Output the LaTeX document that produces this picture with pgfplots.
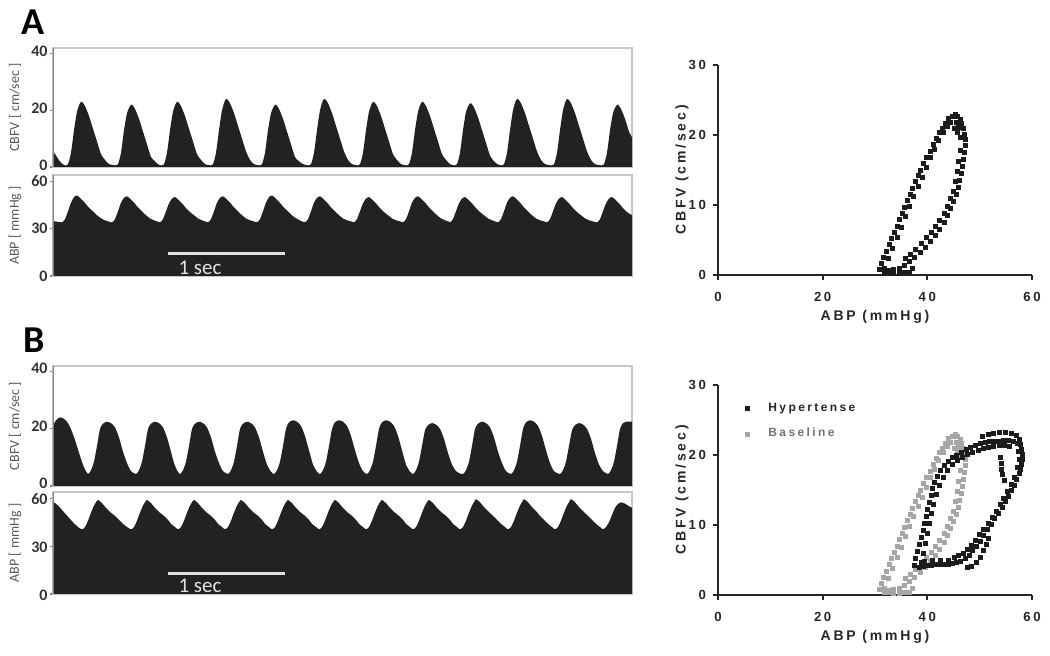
\documentclass[border=0pt]{standalone}
\usepackage{fontspec}
\setmainfont{Carlito}
\newfontfamily\prism[LetterSpace=20]{Liberation Sans}
\usepackage{pgfplots}
\pgfplotsset{compat=1.18}
\usepackage{pgfplotstable}
\definecolor{wave}{HTML}{222222}
\definecolor{frame}{HTML}{C8C8C8}
\definecolor{hyper}{HTML}{1C1C1C}
\definecolor{basegray}{HTML}{A6A6A6}
\definecolor{barcol}{HTML}{E2E2E2}

% loop data: CBFV (cm/sec) against ABP (mmHg)
\pgfplotstableread[row sep=\\]{
abp cbfv\\
30.8 0.8\\ 31.2 1.6\\ 31.7 2.5\\ 32.2 3.4\\ 32.7 4.3\\ 33.2 5.2\\ 33.7 6.1\\ 34.2 7.0\\ 34.7 7.9\\ 35.2 8.8\\
35.7 9.7\\ 36.2 10.6\\ 36.7 11.5\\ 37.2 12.4\\ 37.7 13.3\\ 38.2 14.2\\ 38.7 15.0\\ 39.3 15.9\\ 39.9 16.8\\ 40.5 17.7\\
41.1 18.6\\ 41.7 19.5\\ 42.3 20.3\\ 42.9 21.0\\ 43.5 21.7\\ 44.1 22.3\\ 44.7 22.7\\ 45.3 22.9\\
31.8 0.9\\ 32.6 2.3\\ 33.4 3.8\\ 34.2 5.3\\ 35.0 6.8\\ 35.8 8.3\\ 36.6 9.8\\ 37.4 11.2\\ 38.2 12.6\\ 39.0 14.0\\
39.8 15.4\\ 40.6 16.8\\ 41.4 18.0\\ 42.2 19.2\\ 43.0 20.3\\ 43.8 21.2\\ 44.5 21.8\\
45.8 22.6\\ 46.3 22.2\\ 46.6 21.6\\ 46.9 20.9\\ 47.1 20.1\\ 47.2 19.3\\ 45.5 21.8\\ 46.0 21.1\\ 45.8 20.3\\ 46.3 19.7\\ 45.2 21.0\\
47.2 18.5\\ 47.1 17.5\\ 46.9 16.5\\ 46.7 15.5\\ 46.5 14.5\\ 46.2 13.5\\ 45.9 12.5\\ 45.5 11.5\\ 45.0 10.5\\ 44.5 9.5\\
43.9 8.5\\ 43.2 7.5\\ 42.4 6.5\\ 41.5 5.6\\ 40.6 4.8\\ 39.6 4.0\\ 38.6 3.2\\ 37.6 2.5\\ 36.6 1.9\\ 35.6 1.4\\
46.3 17.8\\ 46.0 16.2\\ 45.7 14.8\\ 45.4 13.4\\ 45.0 12.0\\ 44.5 10.9\\ 43.9 9.8\\ 43.2 8.8\\ 42.4 7.8\\ 41.6 6.9\\
40.7 6.1\\ 39.8 5.3\\ 38.8 4.5\\ 37.8 3.7\\ 36.8 3.0\\ 35.8 2.3\\
34.6 1.0\\ 33.6 0.8\\ 32.6 0.7\\ 36.6 0.4\\ 35.6 0.3\\ 34.6 0.2\\ 33.6 0.2\\ 32.6 0.3\\ 31.8 0.4\\ 37.2 0.9\\
}\loopbase

\pgfplotstableread[row sep=\\]{
abp cbfv\\
37.6 4.2\\ 37.8 5.2\\ 38.1 6.2\\ 38.5 7.2\\ 38.9 8.2\\ 39.2 9.2\\ 39.5 10.2\\ 39.8 11.2\\ 40.1 12.2\\ 40.4 13.2\\
40.7 14.2\\ 41.0 15.2\\ 41.4 16.1\\ 41.9 17.0\\ 42.5 17.8\\ 43.2 18.5\\ 44.0 19.1\\ 44.8 19.6\\ 45.6 20.0\\ 46.5 20.4\\
47.4 20.8\\ 48.3 21.1\\ 49.2 21.4\\ 50.1 21.6\\ 51.0 21.8\\ 51.9 21.9\\ 52.8 22.0\\ 53.7 22.0\\ 54.6 22.1\\ 55.5 22.1\\ 56.4 22.0\\
38.8 4.6\\ 39.2 6.0\\ 39.6 7.4\\ 40.0 8.8\\ 40.4 10.2\\ 40.8 11.6\\ 41.2 13.0\\ 41.7 14.4\\ 42.3 15.7\\ 43.0 16.8\\
43.8 17.8\\ 44.7 18.6\\ 45.7 19.2\\ 46.7 19.7\\ 47.7 20.1\\ 48.7 20.4\\ 49.7 20.7\\ 50.7 20.9\\ 51.7 21.1\\ 52.7 21.2\\
53.7 21.3\\ 54.7 21.3\\ 55.7 21.2\\
50.5 22.6\\ 51.6 22.9\\ 52.7 23.1\\ 53.8 23.2\\ 54.9 23.2\\ 56.0 23.1\\ 57.0 22.8\\
57.5 22.2\\ 57.8 21.5\\ 58.0 20.8\\ 58.1 20.1\\ 58.1 19.4\\ 58.0 18.7\\ 57.8 18.0\\ 57.2 21.6\\ 57.4 20.5\\ 57.5 19.3\\ 57.3 18.2\\
57.5 17.3\\ 57.1 16.5\\ 56.6 15.7\\ 56.1 14.9\\ 55.5 14.1\\ 54.9 13.3\\ 54.3 12.5\\ 53.6 11.7\\ 52.9 10.9\\ 52.2 10.1\\
51.5 9.3\\ 50.8 8.5\\ 50.1 7.7\\ 49.4 7.0\\ 48.7 6.3\\ 48.0 5.7\\ 47.2 5.2\\ 46.4 4.8\\ 45.6 4.6\\
56.6 16.8\\ 56.0 15.8\\ 55.3 14.8\\ 54.6 13.8\\ 53.9 12.9\\ 53.2 12.0\\ 52.4 11.1\\ 51.6 10.2\\ 50.8 9.4\\ 50.0 8.6\\
49.2 7.8\\ 48.4 7.1\\ 47.6 6.5\\ 46.8 6.0\\ 46.0 5.6\\ 45.2 5.3\\
44.8 4.5\\ 44.0 4.4\\ 43.2 4.3\\ 42.4 4.3\\ 41.6 4.3\\ 40.8 4.2\\ 40.0 4.2\\ 39.2 4.1\\ 38.4 4.0\\
39.5 4.8\\ 41.0 4.9\\ 42.5 4.9\\ 44.0 5.0\\
47.6 4.0\\ 48.5 4.1\\ 49.4 4.6\\ 50.2 5.4\\ 50.8 6.3\\ 51.3 7.2\\ 51.6 8.1\\
54.0 19.6\\ 54.1 18.8\\ 54.2 18.0\\ 54.4 17.2\\ 54.7 16.4\\
}\loophyper

\pgfplotsset{
  trace/.style={
    scale only axis, width=289.5pt, xmin=0, xmax=579, ymin=0,
    xtick=\empty, ytick pos=left, tick align=outside, major tick length=1.5pt,
    tick style={black!50, line width=0.6pt},
    axis line style={frame, line width=0.9pt},
    yticklabel style={font=\bfseries\fontsize{8}{8}\selectfont, text=black!80, inner sep=0pt, xshift=-1pt},
    /pgf/number format/assume math mode=true,
    ylabel style={at={(axis description cs:-0.0656,0.5)}, anchor=center,
      font=\fontsize{7}{7}\selectfont, text=black!65},
  },
  wavefill/.style={draw=none, fill=wave, smooth, tension=0.4},
  loop/.style={
    scale only axis, width=157pt, height=105pt,
    xmin=0, xmax=60, ymin=0, ymax=30,
    axis x line=bottom, axis y line=left,
    axis line style={-, line width=1.2pt, black!85},
    xtick={0,20,40,60}, ytick={0,10,20,30},
    tick align=outside, major tick length=2.5pt, tick style={line width=1pt, black!85},
    ticklabel style={font=\prism\bfseries\fontsize{6.6}{7}\selectfont, text=black!85},
    xticklabel style={yshift=-2.5pt},
    /pgf/number format/assume math mode=true,
    xlabel={ABP (mmHg)}, ylabel={CBFV (cm/sec)},
    label style={font=\prism\bfseries\fontsize{7}{8}\selectfont, text=black!85},
    xlabel style={at={(axis description cs:0.5,-0.2)}, anchor=center},
    ylabel style={at={(axis description cs:-0.115,0.5)}, anchor=center},
    clip=false,
  },
  dots/.style={only marks, mark=square*, mark size=1pt},
}

\begin{document}
\begin{tikzpicture}
\useasboundingbox (0,0) rectangle (525pt,328pt);

\node[font=\bfseries\fontsize{19}{19}\selectfont] at (16.5pt,317pt) {A};
\node[font=\bfseries\fontsize{19}{19}\selectfont] at (17pt,158pt) {B};

% ---------- A: CBFV trace
\begin{axis}[trace, at={(26.5pt,244.5pt)}, anchor=south west, height=59.5pt,
  ymax=42, ytick={0,20,40}, ylabel={CBFV [ cm/sec ]}, yticklabel style={yshift=1pt}]
\addplot[wavefill] coordinates {
(0,5.6)(4,3.5)(8,1.5)
(12,0.6)(15,1.0)(18,5)(21,13)(24,19.5)(27,22.5)(29,23)(32,21.5)(36,18)(40,13.5)(44,9)(48,4.5)(52,2.5)(56,1.0)
(62,0.6)(65,1.0)(68,5)(71,13)(74,19)(77,21.5)(79,22)(82,20.5)(86,17)(90,12.5)(94,8)(98,3.5)(102,2)(105,1.0)
(108,0.6)(111,1)(114,5)(117,13)(120,19.5)(123,22.5)(125,23)(128,21.5)(132,18)(136,13.5)(140,9)(144,4.5)(148,2.5)(152,1)
(157,0.6)(160,1)(163,5)(166,13)(169,20)(172,23.5)(174,24)(177,22.5)(181,19)(185,14.5)(189,10)(193,5.5)(197,2.5)(201,1)
(206,0.6)(209,1)(212,5)(215,13)(218,19)(221,21.5)(223,22)(226,20.5)(230,17)(234,12.5)(238,8)(242,3.5)(246,2)(250,1)
(255,0.6)(258,1)(261,5)(264,13)(267,20)(270,23.5)(272,24)(275,22.5)(279,19)(283,14.5)(287,10)(291,5.5)(295,2.5)(299,1)
(304,0.6)(307,1)(310,5)(313,13)(316,19.5)(319,22.5)(321,23)(324,21.5)(328,18)(332,13.5)(336,9)(340,4.5)(344,2.5)(348,1)
(353,0.6)(356,1)(359,5)(362,13)(365,19.5)(368,22.5)(370,23)(373,21.5)(377,18)(381,13.5)(385,9)(389,4.5)(393,2.5)(397,1)
(401,0.6)(404,1)(407,5)(410,13)(413,19.5)(416,22)(418,22.5)(421,21)(425,17.5)(429,13)(433,8.5)(437,4)(441,2)(445,0.9)
(448,0.6)(451,1)(454,5)(457,13)(460,20)(463,23.5)(465,24)(468,22.5)(472,19)(476,14.5)(480,10)(484,5.5)(488,2.5)(492,1)
(498,0.6)(501,1)(504,5)(507,13)(510,20)(513,23.5)(515,24)(518,22.5)(522,19)(526,14.5)(530,10)(534,5.5)(538,2.5)(542,1)
(548,0.6)(551,1)(554,5)(557,13)(560,19)(563,21.5)(565,22)(568,20.5)(572,17)(576,12.5)(579,10.5)
} \closedcycle;
\draw[black!50, line width=0.9pt] (rel axis cs:0,0) -- (rel axis cs:0,1);
\end{axis}

% ---------- A: ABP trace
\begin{axis}[trace, at={(26.5pt,190pt)}, anchor=south west, height=50.5pt,
  ymax=64, ytick={0,30,60}, ylabel={ABP [ mmHg ]}]
\addplot[wavefill] coordinates {
(0,34.7)(4,34.4)
(9,34)(12,36)(15,41)(18,46.5)(21,50)(24,51)(27,49.5)(31,47)(35,44)(39,41.5)(43,39)(47,37)(51,35.5)(55,34.6)
(59,34)(62,36)(65,41)(68,46.5)(71,49.5)(74,50.5)(77,49)(81,46.5)(85,43.5)(89,41)(93,38.5)(97,36.5)(101,35.3)(104,34.6)
(107,34)(110,36)(113,41)(116,46)(119,49)(122,50)(125,48.5)(129,46)(133,43)(137,40.5)(141,38.5)(145,36.5)(149,35.3)(152,34.6)
(155,34)(158,36)(161,41)(164,46.5)(167,49.5)(170,50.5)(173,49)(177,46.5)(181,43.5)(185,41)(189,38.5)(193,36.5)(197,35.3)(201,34.6)
(204,34)(207,36)(210,41)(213,46.5)(216,50)(219,51)(222,49.5)(226,47)(230,44)(234,41.5)(238,39)(242,37)(246,35.5)(249,34.6)
(252,34)(255,36)(258,41)(261,46.5)(264,49.5)(267,50.5)(270,49)(274,46.5)(278,43.5)(282,41)(286,38.5)(290,36.5)(294,35.3)(298,34.6)
(301,34)(304,36)(307,41)(310,46)(313,49)(316,50)(319,48.5)(323,46)(327,43)(331,40.5)(335,38.5)(339,36.5)(343,35.3)(347,34.6)
(350,34)(353,36)(356,41)(359,46.5)(362,49.5)(365,50.5)(368,49)(372,46.5)(376,43.5)(380,41)(384,38.5)(388,36.5)(392,35.3)(395,34.6)
(397,34)(400,36)(403,41)(406,46)(409,49)(412,50)(415,48.5)(419,46)(423,43)(427,40.5)(431,38.5)(435,36.5)(439,35.3)(442,34.6)
(445,34)(448,36)(451,41)(454,46.5)(457,49.5)(460,50.5)(463,49)(467,46.5)(471,43.5)(475,41)(479,38.5)(483,36.5)(487,35.3)(491,34.6)
(494,34)(497,36)(500,41)(503,46)(506,49)(509,50)(512,48.5)(516,46)(520,43)(524,40.5)(528,38.5)(532,36.5)(536,35.3)(540,34.6)
(544,34)(547,36)(550,41)(553,46)(556,49)(559,50)(562,48.5)(566,46)(570,43)(574,40.5)(579,38.5)
} \closedcycle;
\draw[black!50, line width=0.9pt] (rel axis cs:0,0) -- (rel axis cs:0,1);
\draw[barcol, line width=1.6pt] (axis cs:115,14) -- (axis cs:232,14);
\node[anchor=base, text=barcol, font=\fontsize{10.5}{11}\selectfont, inner sep=0pt] at (axis cs:147,0.8) {1 sec};
\end{axis}

% ---------- A: loop
\begin{axis}[loop, at={(359pt,190.5pt)}, anchor=south west]
\addplot[dots, hyper] table[x=abp, y=cbfv] {\loopbase};
\end{axis}

% ---------- B: CBFV trace
\begin{axis}[trace, at={(26.5pt,85pt)}, anchor=south west, height=60pt,
  ymax=42, ytick={0,20,40}, ylabel={CBFV [ cm/sec ]}, yticklabel style={yshift=1.5pt}]
\addplot[wavefill] coordinates {
(0,21)(3,23)(7,24)(11,23.5)(15,22)(19,19)(23,15)(27,10.5)(31,6.5)
(35,4.2)(38,5.5)(41,8.5)(44,14)(47,20)(50,21.8)(54,22.5)(58,22)(62,20.5)(66,17)(70,12)(74,8)(78,5.2)
(83,4.2)(86,5.5)(89,8.5)(92,14)(95,20)(98,21.8)(102,22.5)(106,22)(110,20.5)(114,17)(118,12)(121,8)(124,5.5)
(127,4.2)(130,5.5)(133,8.5)(136,14)(139,20)(142,21.8)(146,22.5)(150,22)(154,20.5)(158,17)(162,12)(166,8)(170,5.2)
(175,4.2)(178,5.5)(181,8.5)(184,14)(187,20)(190,21.8)(194,22.5)(198,22)(202,20.5)(206,17)(210,12)(214,7.5)(218,5)
(221,4.2)(224,5.5)(227,8.5)(230,14)(233,20)(236,22.3)(240,23)(244,22.5)(248,21)(252,17.5)(256,12.5)(260,7.5)(264,5)
(267,4.2)(270,5.5)(273,8.5)(276,14)(279,20)(282,22.3)(286,23)(290,22.5)(294,21)(298,17.5)(302,12.5)(306,8)(310,5.2)
(314,4.2)(317,5.5)(320,8.5)(323,14)(326,20)(329,22.3)(333,23)(337,22.5)(341,21)(345,17.5)(349,12.5)(353,7.5)(357,5)
(360,4.2)(363,5.5)(366,8.5)(369,14)(372,19.5)(375,21.3)(379,22)(383,21.5)(387,20)(391,16.5)(395,11.5)(399,7.5)(403,5.2)(406,4.5)
(410,4.2)(413,5.5)(416,8.5)(419,14)(422,20)(425,21.8)(429,22.5)(433,22)(437,20.5)(441,17)(445,12)(449,8)(453,5.2)
(458,4.2)(461,5.5)(464,8.5)(467,14)(470,20)(473,22.3)(477,23)(481,22.5)(485,21)(489,17.5)(493,12.5)(497,8)(501,5.2)
(507,4.2)(510,5.5)(513,8.5)(516,14)(519,19.5)(522,21.3)(526,22)(530,21.5)(534,20)(538,16.5)(542,11.5)(546,7.5)(550,5.2)
(555,4.2)(558,5.5)(561,8.5)(564,14)(567,20)(570,22)(573,22.5)(579,22.5)
} \closedcycle;
\draw[black!50, line width=0.9pt] (rel axis cs:0,0) -- (rel axis cs:0,1);
\end{axis}

% ---------- B: ABP trace
\begin{axis}[trace, at={(26.5pt,31pt)}, anchor=south west, height=51pt,
  ymax=64, ytick={0,30,60}, ylabel={ABP [ mmHg ]}, yticklabel style={yshift=-0.5pt}]
\addplot[wavefill] coordinates {
(0,58)(5,55.5)(10,52)(15,48.5)(20,45)(25,42)
(29,40.6)(32,42)(35,46)(38,51)(41,55.5)(43,57.5)(45,59)(49,57)(53,54)(57,51.5)(62,49)(66,46.5)(70,44)(74,42)
(78,40.6)(81,42)(84,46)(87,51)(90,55.5)(92,57.5)(94,59)(98,57)(102,54)(106,51.5)(111,49)(115,46.5)(118,44)(122,42)
(125,40.6)(128,42)(131,46)(134,51)(137,55.5)(139,57.5)(141,59)(145,57)(149,54)(153,51.5)(158,49)(162,46.5)(165,44)(169,42)
(172,40.6)(175,42)(178,46)(181,51)(184,55.5)(186,57.5)(188,59)(192,57)(196,54)(200,51.5)(205,49)(209,46.5)(212,44)(216,42)
(219,40.6)(222,42)(225,46)(228,51)(231,55.5)(233,57.5)(235,59)(239,57)(243,54)(247,51.5)(252,49)(256,46.5)(259,44)(263,42)
(266,40.6)(269,42)(272,46)(275,51)(278,55.5)(280,57.5)(282,59)(286,57)(290,54)(294,51.5)(299,49)(303,46.5)(306,44)(310,42)
(313,40.6)(316,42)(319,46)(322,51)(325,55.5)(327,57.5)(329,59)(333,57)(337,54)(341,51.5)(346,49)(350,46.5)(353,44)(357,42)
(360,40.6)(363,42)(366,46)(369,51)(372,55.5)(374,57.5)(376,59)(380,57)(384,54)(388,51.5)(393,49)(397,46.5)(400,44)(404,42)
(407,40.6)(410,42)(413,46)(416,51)(419,55.5)(421,57.5)(423,59.5)(427,57.5)(431,54.5)(435,52)(440,49)(444,46.5)(448,44)(452,42)
(455,40.6)(458,42)(461,46)(464,51)(467,55.5)(469,57.5)(471,59.5)(475,57.5)(479,54.5)(483,52)(487,49)(491,46.5)(495,44)(499,42)
(502,40.6)(505,42)(508,46)(511,51)(514,55.5)(516,57.5)(518,59.5)(522,57.5)(526,54.5)(530,52)(535,49)(539,46.5)(543,44)(547,42)
(550,40.6)(553,42)(556,45)(559,49.5)(562,54)(565,56.5)(568,57.5)(571,57)(575,55.5)(579,54)
} \closedcycle;
\draw[black!50, line width=0.9pt] (rel axis cs:0,0) -- (rel axis cs:0,1);
\draw[barcol, line width=1.6pt] (axis cs:115,13) -- (axis cs:232,13);
\node[anchor=base, text=barcol, font=\fontsize{10.5}{11}\selectfont, inner sep=0pt] at (axis cs:147,0.8) {1 sec};
\end{axis}

% ---------- B: loops
\begin{axis}[loop, at={(359pt,30.5pt)}, anchor=south west,
  legend image code/.code={\path[draw=none] (0cm,0cm) -- (0.4cm,0cm);
    \path[#1, draw=none] plot coordinates {(0.1cm,0cm)};},
  legend style={at={(axis description cs:0.055,0.955)}, anchor=north west, draw=none, fill=none,
    font=\prism\bfseries\fontsize{6}{7}\selectfont, text=black!85, row sep=3pt},
  legend cell align=left]
\addplot[dots, basegray, forget plot] table[x=abp, y=cbfv] {\loopbase};
\addplot[dots, hyper] table[x=abp, y=cbfv] {\loophyper};
\addlegendentry{Hypertense}
\addlegendimage{dots, basegray}
\addlegendentry{\textcolor{black!55}{Baseline}}
\end{axis}
\end{tikzpicture}
\end{document}
